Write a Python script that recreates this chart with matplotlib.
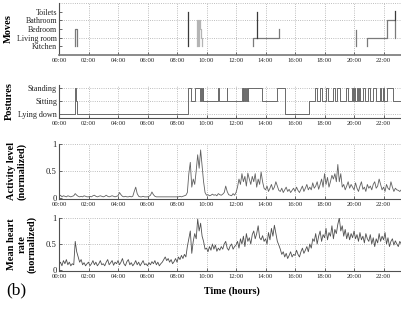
import numpy as np
import matplotlib
matplotlib.use("Agg")
import matplotlib.pyplot as plt

plt.rcParams['font.family'] = ['Liberation Serif', 'DejaVu Serif']

# ---------------- data ----------------
hour_ticks = [0, 2, 4, 6, 8, 10, 12, 14, 16, 18, 20, 22]
hour_labels = ["00:00", "02:00", "04:00", "06:00", "08:00", "10:00",
               "12:00", "14:00", "16:00", "18:00", "20:00", "22:00"]

rooms = ["Kitchen", "Living room", "Bedroom", "Bathroom", "Toilets"]
room_levels = [1, 2, 3, 4, 5]

postures = ["Lying down", "Sitting", "Standing"]
posture_levels = [1, 2, 3]

# moves: segments separated by NaN (time in hours, room level)
moves_mid_t = [1.08, 1.08, 1.22, 1.22, np.nan,
               13.15, 13.15, 14.92, 14.92, np.nan,
               20.14, 20.14, np.nan,
               20.88, 20.88, 22.20, 22.20, 22.78, 22.78]
moves_mid_v = [1, 3, 3, 1, np.nan,
               1, 2, 2, 3, np.nan,
               1, 2.9, np.nan,
               1, 2, 2, 4, 4, 2]
moves_light_t = [9.33, 9.33, 9.40, 9.40, 9.47, 9.47, 9.54, 9.54, 9.60, 9.60, 9.67, 9.67]
moves_light_v = [1, 4, 4, 1, 1, 4, 4, 3, 3, 2, 2, 1]
moves_dark_t = [8.75, 8.75, np.nan, 13.42, 13.42, np.nan, 22.80, 22.80]
moves_dark_v = [1, 5, np.nan, 2, 5, np.nan, 4, 5.1]

# postures: change times and level after each change
posture_t = [0.00, 1.08, 1.15, 1.22, 8.77, 8.93, 9.22, 9.56, 9.62, 9.68, 9.74, 9.79,
             10.80, 10.85, 11.37, 11.41, 12.38, 12.45, 12.50, 12.56, 12.62, 12.68,
             12.72, 12.78, 12.83, 13.74, 14.80, 15.32, 16.97,
             17.36, 17.51, 17.69, 17.81, 18.10, 18.22, 18.55, 18.71, 18.87, 19.05,
             19.45, 19.61, 19.84, 19.91, 19.99, 20.09, 20.18, 20.27, 20.36, 20.43,
             20.58, 20.74, 20.97, 21.08, 21.31, 21.47, 21.76, 21.83, 21.94, 22.01,
             22.21, 22.62, 23.25]
posture_v = [1, 3, 2, 1, 3, 2, 3, 2, 3, 2, 3, 2,
             3, 2, 3, 2, 3, 2, 3, 2, 3, 2,
             3, 2, 3, 2, 3, 1, 2,
             3, 2, 3, 2, 3, 2, 3, 2, 3, 2,
             3, 2, 3, 2, 3, 2, 3, 2, 3, 2,
             3, 2, 3, 2, 3, 2, 3, 2, 3, 2,
             3, 2, 2]

# activity level (normalized), sampled every 0.1 h from 00:00
activity = [
    0.03, 0.05, 0.02, 0.04, 0.03, 0.02, 0.04, 0.03, 0.02, 0.03,
    0.04, 0.08, 0.05, 0.03, 0.02, 0.03, 0.02, 0.04, 0.03, 0.02,
    0.02, 0.03, 0.02, 0.04, 0.05, 0.03, 0.02, 0.03, 0.04, 0.03,
    0.02, 0.03, 0.05, 0.03, 0.02, 0.03, 0.04, 0.03, 0.02, 0.03,
    0.04, 0.10, 0.06, 0.03, 0.02, 0.03, 0.02, 0.02, 0.03, 0.02,
    0.03, 0.12, 0.20, 0.08, 0.03, 0.02, 0.02, 0.03, 0.02, 0.02,
    0.02, 0.03, 0.05, 0.11, 0.06, 0.03, 0.02, 0.02, 0.02, 0.02,
    0.02, 0.02, 0.02, 0.02, 0.02, 0.02, 0.02, 0.02, 0.02, 0.02,
    0.02, 0.02, 0.03, 0.02, 0.03, 0.04, 0.05, 0.10, 0.45, 0.66,
    0.20, 0.35, 0.25, 0.50, 0.80, 0.55, 0.89, 0.60, 0.30, 0.10,
    0.05, 0.06, 0.04, 0.05, 0.07, 0.05, 0.06, 0.04, 0.08, 0.06,
    0.05, 0.07, 0.10, 0.22, 0.12, 0.06, 0.05, 0.04, 0.08, 0.05,
    0.10, 0.20, 0.35, 0.25, 0.45, 0.30, 0.40, 0.22, 0.46, 0.35,
    0.25, 0.40, 0.30, 0.45, 0.20, 0.35, 0.25, 0.48, 0.30, 0.18,
    0.15, 0.22, 0.12, 0.18, 0.25, 0.15, 0.20, 0.30, 0.22, 0.14,
    0.12, 0.18, 0.10, 0.15, 0.20, 0.12, 0.16, 0.10, 0.14, 0.18,
    0.12, 0.20, 0.14, 0.10, 0.16, 0.22, 0.12, 0.18, 0.25, 0.15,
    0.20, 0.15, 0.28, 0.18, 0.22, 0.30, 0.16, 0.25, 0.35, 0.20,
    0.45, 0.25, 0.38, 0.20, 0.30, 0.42, 0.35, 0.45, 0.30, 0.62,
    0.30, 0.45, 0.20, 0.25, 0.15, 0.22, 0.30, 0.18, 0.25, 0.20,
    0.15, 0.28, 0.18, 0.12, 0.22, 0.30, 0.16, 0.20, 0.12, 0.25,
    0.18, 0.22, 0.15, 0.25, 0.30, 0.18, 0.22, 0.35, 0.25, 0.15,
    0.20, 0.12, 0.25, 0.18, 0.15, 0.30, 0.20, 0.12, 0.18, 0.15,
    0.14, 0.12, 0.15]

# mean heart rate (normalized), sampled every 0.1 h from 00:00
heart = [
    0.10, 0.15, 0.08, 0.18, 0.12, 0.20, 0.10, 0.15, 0.08, 0.12,
    0.10, 0.55, 0.35, 0.25, 0.15, 0.20, 0.10, 0.14, 0.08, 0.12,
    0.15, 0.08, 0.12, 0.18, 0.10, 0.15, 0.08, 0.12, 0.18, 0.10,
    0.12, 0.08, 0.15, 0.20, 0.10, 0.14, 0.18, 0.09, 0.15, 0.12,
    0.18, 0.10, 0.15, 0.22, 0.12, 0.08, 0.16, 0.20, 0.10, 0.14,
    0.08, 0.12, 0.18, 0.10, 0.15, 0.08, 0.13, 0.18, 0.10, 0.12,
    0.08, 0.14, 0.10, 0.16, 0.12, 0.18, 0.10, 0.15, 0.08, 0.12,
    0.15, 0.20, 0.25, 0.18, 0.22, 0.15, 0.20, 0.12, 0.16, 0.22,
    0.15, 0.25, 0.20, 0.28, 0.22, 0.30, 0.25, 0.45, 0.60, 0.75,
    0.32, 0.55, 0.70, 0.60, 0.98, 0.75, 0.90, 0.65, 0.55, 0.40,
    0.42, 0.35, 0.45, 0.38, 0.50, 0.40, 0.48, 0.36, 0.42, 0.38,
    0.45, 0.40, 0.50, 0.55, 0.42, 0.38, 0.46, 0.50, 0.40, 0.45,
    0.48, 0.55, 0.42, 0.60, 0.50, 0.65, 0.45, 0.70, 0.55, 0.62,
    0.50, 0.68, 0.75, 0.60, 0.70, 0.85, 0.62, 0.58, 0.66, 0.55,
    0.60, 0.50, 0.72, 0.58, 0.80, 0.65, 0.86, 0.70, 0.55, 0.48,
    0.40, 0.30, 0.35, 0.25, 0.32, 0.22, 0.28, 0.35, 0.25, 0.30,
    0.28, 0.38, 0.30, 0.25, 0.35, 0.42, 0.32, 0.38, 0.45, 0.35,
    0.50, 0.42, 0.60, 0.55, 0.70, 0.50, 0.65, 0.75, 0.55, 0.68,
    0.62, 0.80, 0.58, 0.72, 0.65, 0.85, 0.60, 0.78, 0.70, 0.88,
    1.00, 0.75, 0.85, 0.65, 0.78, 0.60, 0.72, 0.58, 0.70, 0.62,
    0.75, 0.60, 0.68, 0.55, 0.72, 0.58, 0.65, 0.52, 0.70, 0.60,
    0.55, 0.68, 0.50, 0.62, 0.45, 0.60, 0.52, 0.70, 0.55, 0.65,
    0.58, 0.72, 0.50, 0.62, 0.45, 0.55, 0.60, 0.48, 0.56, 0.50,
    0.45, 0.55, 0.50]

signal_t = np.arange(len(activity)) * 0.1

# ---------------- figure ----------------
W, H = 402, 312
fig = plt.figure(figsize=(W / 100, H / 100), dpi=100)

def ax_at(top, bottom):
    return fig.add_axes([59 / W, 1 - bottom / H, 343 / W, (bottom - top) / H])

XMAX = 23.25
grid_kw = dict(color='#a8a8a8', linestyle=':', linewidth=0.6)
axis_col = '#505050'

def style(ax, yticks, ylabels, ygrid, ylim, yfs=6.2):
    ax.set_xlim(0, XMAX)
    ax.set_ylim(*ylim)
    ax.set_xticks(hour_ticks)
    ax.set_xticklabels(hour_labels, fontsize=4.8)
    ax.set_yticks(yticks)
    ax.set_yticklabels(ylabels, fontsize=yfs)
    ax.tick_params(direction='in', length=2, width=0.6, color=axis_col, pad=2,
                   labelcolor='#222222')
    ax.tick_params(axis='y', pad=1.5)
    for s in ['top', 'right']:
        ax.spines[s].set_visible(False)
    for s in ['left', 'bottom']:
        ax.spines[s].set_color(axis_col)
        ax.spines[s].set_linewidth(0.8)
    for x in hour_ticks[1:]:
        ax.axvline(x, zorder=0, **grid_kw)
    for y in ygrid:
        ax.axhline(y, zorder=0, **grid_kw)

# Panel 1: moves
ax1 = ax_at(3, 55)
ax1.plot(moves_mid_t, moves_mid_v, color='#7a7a7a', lw=0.9)
ax1.plot(moves_light_t, moves_light_v, color='#b4b4b4', lw=0.9)
ax1.plot(moves_dark_t, moves_dark_v, color='#3a3a3a', lw=0.9)
style(ax1, room_levels, rooms, [2, 4, 6], (0, 6), yfs=5.7)
ax1.spines['bottom'].set_linewidth(1.2)
ax1.spines['bottom'].set_color('#777777')

# Panel 2: postures
ax2 = ax_at(85, 118)
ax2.step(posture_t, posture_v, where='post', color='#6a6a6a', lw=0.7)
style(ax2, posture_levels, postures, [1, 2, 3], (0.69, 3.23), yfs=5.9)

# Panel 3: activity
ax3 = ax_at(144, 199)
ax3.plot(signal_t, activity, color='#606060', lw=0.6)
style(ax3, [0, 0.5, 1], ["0", "0.5", "1"], [0.5, 1], (-0.02, 1))

# Panel 4: heart rate
ax4 = ax_at(218, 271)
ax4.plot(signal_t, heart, color='#4f4f4f', lw=0.6)
style(ax4, [0, 0.5, 1], ["0", "0.5", "1"], [0.5, 1], (-0.02, 1))

# y-axis labels
lab = dict(rotation=90, fontweight='bold', fontsize=7.5, ha='center', va='center')
fig.text(8 / W, 1 - 29 / H, "Moves", **lab)
fig.text(9 / W, 1 - 101 / H, "Postures", **lab)
fig.text(12 / W, 1 - 171 / H, "Activity level", **lab)
fig.text(22 / W, 1 - 171 / H, "(normalized)", **lab)
fig.text(12 / W, 1 - 244 / H, "Mean heart", **lab)
fig.text(22 / W, 1 - 244 / H, "rate", **lab)
fig.text(32 / W, 1 - 244 / H, "(normalized)", **lab)

fig.text(232 / W, 1 - 291 / H, "Time (hours)", fontweight='bold', fontsize=7.2,
         ha='center', va='center')
fig.text(16 / W, 1 - 290 / H, "(b)", fontsize=12.5, ha='center', va='center')

fig.savefig("out.png", dpi=100)
